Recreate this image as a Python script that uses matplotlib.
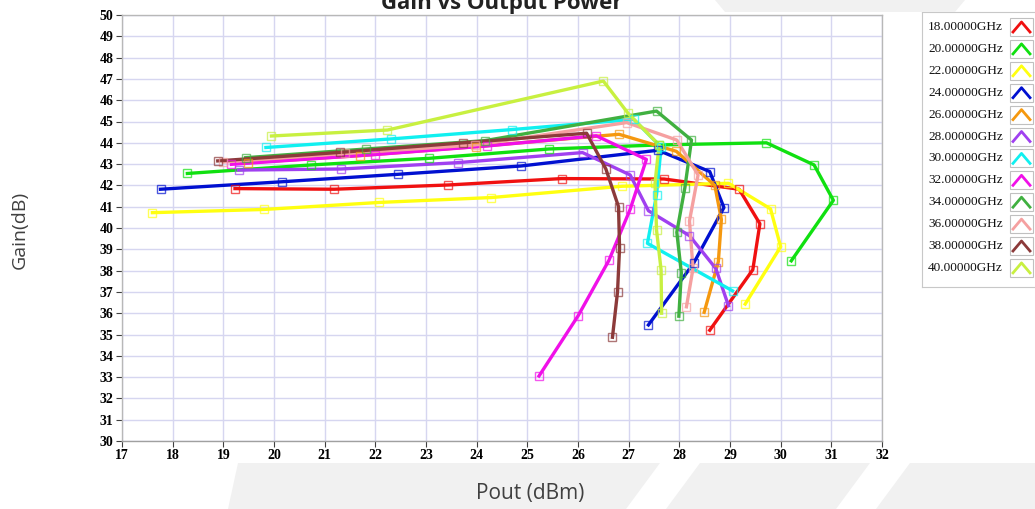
import matplotlib
matplotlib.use("Agg")
import matplotlib.pyplot as plt
from matplotlib.patches import Polygon, Rectangle

# Pout (dBm) / Gain (dB) per frequency
red_p = [19.23, 21.19, 23.44, 25.68, 27.70, 29.18, 29.59, 29.45, 28.60]
red_g = [41.85, 41.82, 42.02, 42.32, 42.30, 41.82, 40.20, 38.04, 35.20]

green_p = [18.29, 20.73, 23.05, 25.43, 27.60, 29.72, 30.66, 31.04, 30.21]
green_g = [42.56, 42.96, 43.27, 43.71, 43.90, 44.00, 42.96, 41.30, 38.46]

yellow_p = [17.60, 19.80, 22.08, 24.29, 26.87, 28.97, 29.80, 30.00, 29.30]
yellow_g = [40.72, 40.87, 41.20, 41.43, 41.96, 42.10, 40.90, 39.12, 36.43]

blue_p = [17.76, 20.15, 22.44, 24.87, 27.58, 28.60, 28.88, 28.28, 27.39]
blue_g = [41.82, 42.17, 42.52, 42.91, 43.65, 42.65, 40.96, 38.34, 35.45]

orange_p = [19.49, 21.70, 23.98, 26.81, 27.94, 28.70, 28.83, 28.77, 28.49]
orange_g = [43.07, 43.40, 43.82, 44.40, 43.60, 42.00, 40.40, 38.42, 36.04]

purple_p = [19.30, 21.32, 23.64, 26.09, 27.03, 27.39, 28.20, 28.72, 28.97]
purple_g = [42.72, 42.77, 43.07, 43.54, 42.49, 40.81, 39.64, 38.10, 36.35]

cyan_p = [19.84, 22.30, 24.69, 27.10, 27.64, 27.55, 27.37, 29.05]
cyan_g = [43.78, 44.18, 44.62, 45.10, 43.80, 41.55, 39.28, 37.05]

magenta_p = [19.16, 22.00, 24.20, 26.36, 27.35, 27.03, 26.61, 26.00, 25.23]
magenta_g = [42.99, 43.45, 43.85, 44.33, 43.22, 40.88, 38.48, 35.87, 33.05]

dkgreen_p = [19.44, 21.82, 24.16, 27.55, 28.24, 28.11, 27.95, 28.04, 27.99]
dkgreen_g = [43.30, 43.71, 44.10, 45.49, 44.13, 41.90, 39.80, 37.90, 35.86]

pink_p = [19.00, 21.40, 23.97, 26.96, 27.95, 28.37, 28.20, 28.27, 28.14]
pink_g = [43.10, 43.50, 43.90, 44.95, 44.13, 42.49, 40.33, 38.10, 36.30]

brown_p = [18.89, 21.30, 23.74, 26.17, 26.55, 26.80, 26.82, 26.78, 26.68]
brown_g = [43.15, 43.55, 44.00, 44.45, 42.77, 41.00, 39.05, 37.00, 34.87]

lime_p = [19.95, 22.24, 26.50, 26.99, 27.60, 27.52, 27.55, 27.64, 27.65]
lime_g = [44.32, 44.60, 46.90, 45.38, 43.90, 42.10, 39.90, 38.03, 36.00]

labels = ["18.00000GHz", "20.00000GHz", "22.00000GHz", "24.00000GHz",
          "26.00000GHz", "28.00000GHz", "30.00000GHz", "32.00000GHz",
          "34.00000GHz", "36.00000GHz", "38.00000GHz", "40.00000GHz"]
colors = ["#f01010", "#10e010", "#ffff10", "#0010d0", "#f5980f", "#a040f0",
          "#10f0f0", "#f010e8", "#40b040", "#f5a0a0", "#8c3a3a", "#c8f040"]
series = [(red_p, red_g), (green_p, green_g), (yellow_p, yellow_g),
          (blue_p, blue_g), (orange_p, orange_g), (purple_p, purple_g),
          (cyan_p, cyan_g), (magenta_p, magenta_g), (dkgreen_p, dkgreen_g),
          (pink_p, pink_g), (brown_p, brown_g), (lime_p, lime_g)]

W, H = 1035, 509
fig = plt.figure(figsize=(W / 100, H / 100), dpi=100)

# faint background shapes of the slide
bg = "#f1f1f1"
for pts in [[(238, 463), (660, 463), (626, 509), (228, 509)],
            [(700, 463), (870, 463), (836, 509), (666, 509)],
            [(910, 463), (1035, 463), (1035, 509), (876, 509)],
            [(715, 0), (965, 0), (955, 12), (725, 12)]]:
    fig.patches.append(Polygon([(x / W, 1 - y / H) for x, y in pts],
                               closed=True, transform=fig.transFigure,
                               facecolor=bg, edgecolor="none", zorder=0))

ax = fig.add_axes([122 / W, 1 - 441 / H, (882 - 122) / W, (441 - 15) / H])
ax.set_facecolor("white")

for (p, g), c in zip(series, colors):
    ax.plot(p, g, color=c, lw=2.4, zorder=3)
    ax.plot(p, g, ls="none", marker="s", ms=5.5, mfc="none", mec=c,
            mew=1.0, alpha=0.7, zorder=4)

ax.set_xlim(17, 32)
ax.set_ylim(30, 50)
ax.set_xticks(range(17, 33))
ax.set_yticks(range(30, 51))
ax.grid(True, color="#d6d6f0", lw=1.0, zorder=0)
ax.set_axisbelow(True)
for s in ax.spines.values():
    s.set_color("#b8b8b8")
    s.set_linewidth(1.0)
ax.spines["bottom"].set_color("#a0a0a0")
ax.tick_params(axis="both", direction="out", length=4, width=0.8,
               color="#404040", labelsize=10, pad=2)
for lab in ax.get_xticklabels() + ax.get_yticklabels():
    lab.set_fontfamily("Liberation Serif")
    lab.set_fontweight("bold")

fig.text(0.485, 1 - 4 / H, "Gain vs Output Power", ha="center", va="center",
         fontsize=16, fontweight="bold", family="Open Sans", color="#222222")
fig.text(20 / W, 1 - 230 / H, "Gain(dB)", rotation=90, ha="center",
         va="center", fontsize=14, family="Open Sans", color="#404040")
fig.text(530 / W, 1 - 493 / H, "Pout (dBm)", ha="center", va="center",
         fontsize=15, family="Open Sans", color="#404040")

# legend panel, cut at the right edge as in the reference
lg = fig.add_axes([922 / W, 1 - 287 / H, 130 / W, (287 - 12) / H])
lg.set_xlim(922, 1052)
lg.set_ylim(287, 12)
lg.set_xticks([])
lg.set_yticks([])
for s in lg.spines.values():
    s.set_color("#c8c8c8")
for i, (lab, c) in enumerate(zip(labels, colors)):
    y = 27 + i * 21.9
    lg.text(928, y, lab, ha="left", va="center", fontsize=9.5,
            family="Liberation Serif", color="#111111")
    lg.add_patch(Rectangle((1010, y - 9), 23, 18, facecolor="white",
                           edgecolor="#c0c0c0", lw=0.8))
    lg.plot([1013, 1021.5, 1030], [y + 5, y - 5, y + 5], color=c, lw=2.0)

fig.savefig("out.png", dpi=100)
